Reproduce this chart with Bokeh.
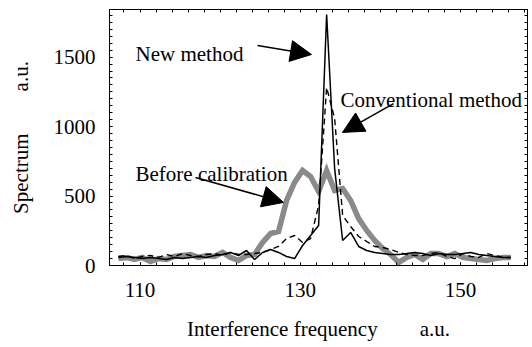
from bokeh.plotting import figure
from bokeh.models import FixedTicker, LinearAxis, Range1d, Arrow, NormalHead, Label
from bokeh.embed import file_html
from bokeh.resources import INLINE

# ---- data ----
freq = [107.3, 108.3, 109.3, 110.3, 111.3, 112.3, 113.3, 114.3, 115.3, 116.3,
        117.3, 118.3, 119.3, 120.3, 121.3, 122.3, 123.3, 124.3, 125.3, 126.3,
        127.3, 128.3, 129.3, 130.3, 131.3, 132.3, 133.3, 134.3, 135.3, 136.3,
        137.3, 138.3, 139.3, 140.3, 141.3, 142.3, 143.3, 144.3, 145.3, 146.3,
        147.3, 148.3, 149.3, 150.3, 151.3, 152.3, 153.3, 154.3, 155.3, 156.3]

new_method = [58, 65, 58, 50, 58, 50, 43, 58, 50, 58,
              65, 58, 72, 79, 94, 72, 108, 43, 94, 115,
              94, 65, 50, 144, 216, 288, 1807, 698, 180, 238,
              137, 108, 94, 86, 79, 79, 86, 94, 86, 72,
              86, 79, 79, 86, 94, 79, 72, 65, 58, 58]

conventional = [65, 72, 50, 65, 72, 58, 79, 65, 86, 72,
                65, 79, 86, 72, 94, 79, 79, 86, 94, 115,
                137, 194, 216, 166, 194, 432, 1282, 1058, 360, 281,
                209, 173, 137, 130, 115, 94, 79, 72, 72, 86,
                94, 65, 50, 86, 65, 58, 86, 72, 58, 58]

before_cal = [50, 58, 43, 58, 29, 50, 43, 65, 72, 79,
              58, 72, 65, 94, 58, 36, 72, 79, 166, 230,
              245, 468, 598, 684, 641, 533, 684, 540, 554, 468,
              338, 252, 180, 122, 79, 22, 58, 79, 43, 86,
              86, 65, 86, 58, 50, 43, 36, 50, 58, 58]

x_ticks = [110, 130, 150]
y_ticks = [0, 500, 1000, 1500]
x_label = "Interference frequency" + "\u00a0" * 8 + "a.u."
y_label = "Spectrum" + "\u00a0" * 8 + "a.u."

annotations = ["New method", "Conventional method", "Before calibration"]

# ---- layout / styling ----
FONT = "Liberation Serif"
FS = "21px"

p = figure(width=532, height=347, output_backend="svg", toolbar_location=None,
           x_range=Range1d(106.19, 158.38), y_range=Range1d(0, 1843),
           min_border_left=109, min_border_right=5, min_border_top=9,
           min_border_bottom=82)
p.background_fill_color = "white"
p.border_fill_color = "white"
p.outline_line_color = "black"
p.outline_line_width = 1
p.xgrid.visible = False
p.ygrid.visible = False

p.line(freq, before_cal, line_color="#8a8a8a", line_width=5.5, line_join="miter")
p.line(freq, conventional, line_color="black", line_width=1.4, line_dash="6 4")
p.line(freq, new_method, line_color="black", line_width=1.5)

x_minor = list(range(106, 160, 2))
y_minor = list(range(0, 1850, 50))
xt = FixedTicker(ticks=x_ticks, minor_ticks=x_minor)
yt = FixedTicker(ticks=y_ticks, minor_ticks=y_minor)


def style(ax):
    ax.axis_line_color = "black"
    ax.major_tick_in = 3
    ax.major_tick_out = 0
    ax.minor_tick_in = 3
    ax.minor_tick_out = 0
    ax.major_tick_line_color = "black"
    ax.minor_tick_line_color = "black"
    ax.major_label_text_font = FONT
    ax.major_label_text_font_size = FS
    ax.major_label_text_color = "black"
    ax.axis_label_text_font = FONT
    ax.axis_label_text_font_size = FS
    ax.axis_label_text_font_style = "normal"
    ax.axis_label_text_color = "black"


xa = p.xaxis[0]
xa.ticker = xt
style(xa)
xa.major_label_standoff = 17
xa.axis_label = x_label
xa.axis_label_standoff = 17

ya = p.yaxis[0]
ya.ticker = yt
style(ya)
ya.major_label_standoff = 14
ya.axis_label = y_label
ya.axis_label_standoff = 18

# top / right frame ticks only (no labels)
top = LinearAxis(ticker=FixedTicker(ticks=[], minor_ticks=x_minor))
style(top)
top.major_label_standoff = 0
p.add_layout(top, "above")

right = LinearAxis(ticker=FixedTicker(ticks=[], minor_ticks=y_minor))
style(right)
right.major_label_standoff = 0
p.add_layout(right, "right")

# arrows (data coordinates)
arrows = [
    (124.67, 1584, 131.41, 1519),
    (141.65, 1166, 135.28, 958),
    (116.93, 634, 127.92, 454),
]
for xs, ys, xe, ye in arrows:
    p.add_layout(Arrow(end=NormalHead(size=21, fill_color="black", line_color="black"),
                       x_start=xs, y_start=ys, x_end=xe, y_end=ye,
                       line_color="black", line_width=1.5))

label_pos = [(109.44, 1526), (135.03, 1195), (109.44, 662)]
for txt, (lx, ly) in zip(annotations, label_pos):
    p.add_layout(Label(x=lx, y=ly, text=txt, text_font=FONT, text_font_size=FS,
                       text_color="black", text_baseline="alphabetic",
                       text_align="left"))

open("out.html", "w").write(file_html(p, INLINE))
